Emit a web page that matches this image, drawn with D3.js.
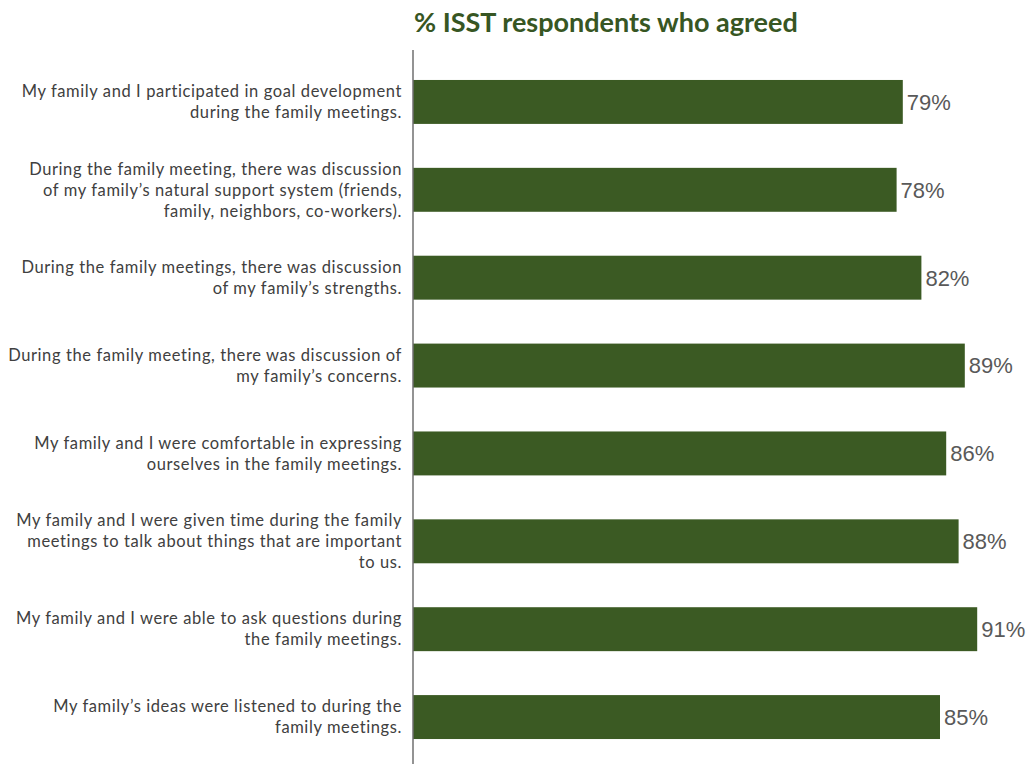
<!DOCTYPE html>
<html>
<head>
<meta charset="utf-8">
<script src="https://cdn.jsdelivr.net/npm/d3@7"></script>
<style>
  html, body { margin: 0; padding: 0; background: #ffffff; }
  svg { display: block; }
</style>
</head>
<body>
<svg id="chart" width="1031" height="764"></svg>
<script>
// Survey statements (each entry is a list of wrapped lines)
const statements = [
  ["My family and I participated in goal development", "during the family meetings."],
  ["During the family meeting, there was discussion", "of my family\u2019s natural support system (friends,", "family, neighbors, co-workers)."],
  ["During the family meetings, there was discussion", "of my family\u2019s strengths."],
  ["During the family meeting, there was discussion of", "my family\u2019s concerns."],
  ["My family and I were comfortable in expressing", "ourselves in the family meetings."],
  ["My family and I were given time during the family", "meetings to talk about things that are important", "to us."],
  ["My family and I were able to ask questions during", "the family meetings."],
  ["My family\u2019s ideas were listened to during the", "family meetings."]
];
// Percent of respondents who agreed
const agreed = [79, 78, 82, 89, 86, 88, 91, 85];
const chartTitle = "% ISST respondents who agreed";

const svg = d3.select("#chart");
const axisX = 413;

const x = d3.scaleLinear().domain([0, 100]).range([axisX, 1033]);
const y = d3.scaleBand()
  .domain(d3.range(statements.length))
  .range([58, 761])
  .paddingInner(0.5)
  .paddingOuter(0.25);

// Title
svg.append("text")
  .attr("x", 414)
  .attr("y", 32)
  .attr("font-family", "Lato, 'Open Sans', sans-serif")
  .attr("font-weight", "bold")
  .attr("font-size", 27)
  .attr("fill", "#375623")
  .text(chartTitle);

// Bars
svg.append("g").selectAll("rect")
  .data(agreed)
  .join("rect")
  .attr("x", x(0))
  .attr("y", (d, i) => y(i))
  .attr("width", d => x(d) - x(0))
  .attr("height", y.bandwidth())
  .attr("fill", "#3b5a23");

// Value labels
svg.append("g").selectAll("text")
  .data(agreed)
  .join("text")
  .attr("x", d => x(d) + 4)
  .attr("y", (d, i) => y(i) + y.bandwidth() / 2)
  .attr("dy", "0.36em")
  .attr("font-family", "'Liberation Sans', Arial, sans-serif")
  .attr("font-size", 22)
  .attr("fill", "#595959")
  .text(d => d + "%");

// Category axis (vertical line, labels on the left)
const yAxis = d3.axisLeft(y).tickSize(0).tickFormat("");
const axisG = svg.append("g")
  .attr("transform", `translate(${axisX},0)`)
  .call(yAxis);
axisG.select(".domain").remove();

svg.append("line")
  .attr("x1", axisX).attr("x2", axisX)
  .attr("y1", 50).attr("y2", 764)
  .attr("stroke", "#6f6f6f")
  .attr("stroke-width", 1.5);

const lineH = 21;
const labels = svg.append("g").selectAll("text")
  .data(statements)
  .join("text")
  .attr("text-anchor", "end")
  .attr("font-family", "Lato, 'Open Sans', sans-serif")
  .attr("font-size", 16.5)
  .attr("letter-spacing", "0.6px")
  .attr("fill", "#404040")
  .attr("transform", (d, i) => `translate(402,${y(i) + y.bandwidth() / 2})`);

labels.selectAll("tspan")
  .data(d => d.map((t, k) => ({ t, k, n: d.length })))
  .join("tspan")
  .attr("x", 0)
  .attr("y", d => (d.k - (d.n - 1) / 2) * lineH)
  .attr("dy", "0.35em")
  .text(d => d.t);
</script>
</body>
</html>
